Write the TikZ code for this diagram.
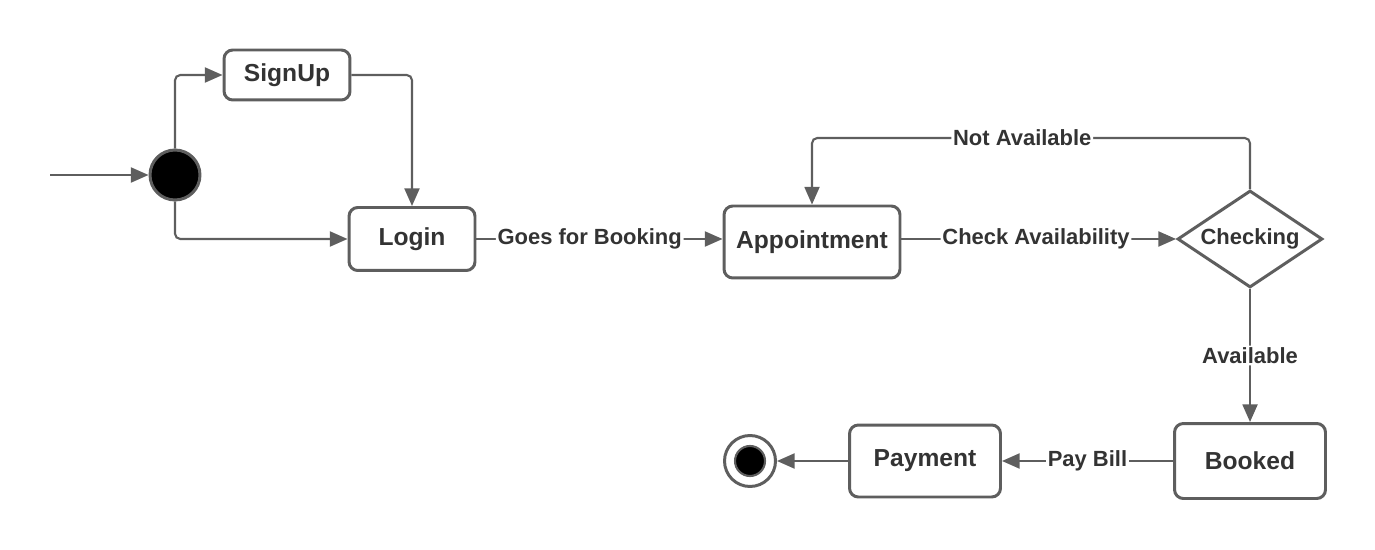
\documentclass[tikz,border=0pt]{standalone}
\usepackage{fontspec}
\setmainfont{Liberation Sans}
\usetikzlibrary{arrows.meta,shapes.geometric}
\definecolor{linegray}{HTML}{5E5E5E}
\definecolor{textgray}{HTML}{333333}
\tikzset{
  state/.style={draw=linegray, line width=1.7pt, rounded corners=5pt, fill=white,
    text=textgray, inner sep=0pt, font=\bfseries\fontsize{14}{17}\selectfont},
  choice/.style={diamond, draw=linegray, line width=1.7pt, fill=white, aspect=1.5,
    text=textgray, inner sep=0pt, font=\bfseries\fontsize{12.5}{15}\selectfont},
  flow/.style={draw=linegray, line width=1.2pt, rounded corners=3pt,
    -{Triangle[length=10pt,width=8.5pt]}},
  lbl/.style={fill=white, text=textgray, inner sep=1pt,
    font=\bfseries\fontsize{12.5}{15}\selectfont},
}
\begin{document}
\begin{tikzpicture}[x=0.02cm,y=-0.02cm]
\useasboundingbox (0,0) rectangle (1375,550);
% states
\node[circle, fill=black, draw=linegray, line width=1.7pt, minimum size=1cm] (start) at (175,175) {};
\coordinate (entry) at (50,175);
\node[state, minimum width=2.52cm, minimum height=1cm] (signup) at (287,75) {SignUp};
\node[state, minimum width=2.52cm, minimum height=1.26cm] (login) at (412,239) {Login};
\node[state, minimum width=3.52cm, minimum height=1.44cm] (appt) at (812,242) {Appointment};
\node[choice, minimum width=2.9cm, minimum height=1.94cm] (chk) at (1250,239) {Checking};
\node[state, minimum width=3.02cm, minimum height=1.5cm] (booked) at (1250,461) {Booked};
\node[state, minimum width=3.02cm, minimum height=1.44cm] (pay) at (925,461) {Payment};
\node[circle, fill=white, draw=linegray, line width=1.7pt, minimum size=1.02cm] (final) at (750,461) {};
\node[circle, fill=black, draw=linegray, line width=1.2pt, minimum size=0.6cm] (finaldot) at (final) {};
% transitions
\draw[flow] (entry) -- (start);
\draw[flow] (start.north) |- (signup.west);
\draw[flow] (start.south) |- (login.west);
\draw[flow] (signup.east) -| (login.north);
\draw[flow] (login.east) -- node[lbl, pos=0.46]{Goes for Booking} (login.east -| appt.west);
\draw[flow] (appt.east |- chk.west) -- node[lbl, pos=0.49]{Check Availability} (chk.west);
\coordinate (loop) at (1250,138);
\draw[flow] (chk.north) -- (loop) -| node[lbl, pos=0.26]{Not Available} (appt.north);
\draw[flow] (chk.south) -- node[lbl]{Available} (booked.north);
\draw[flow] (booked.west) -- node[lbl]{Pay Bill} (pay.east);
\draw[flow] (pay.west) -- (final);
\end{tikzpicture}
\end{document}
